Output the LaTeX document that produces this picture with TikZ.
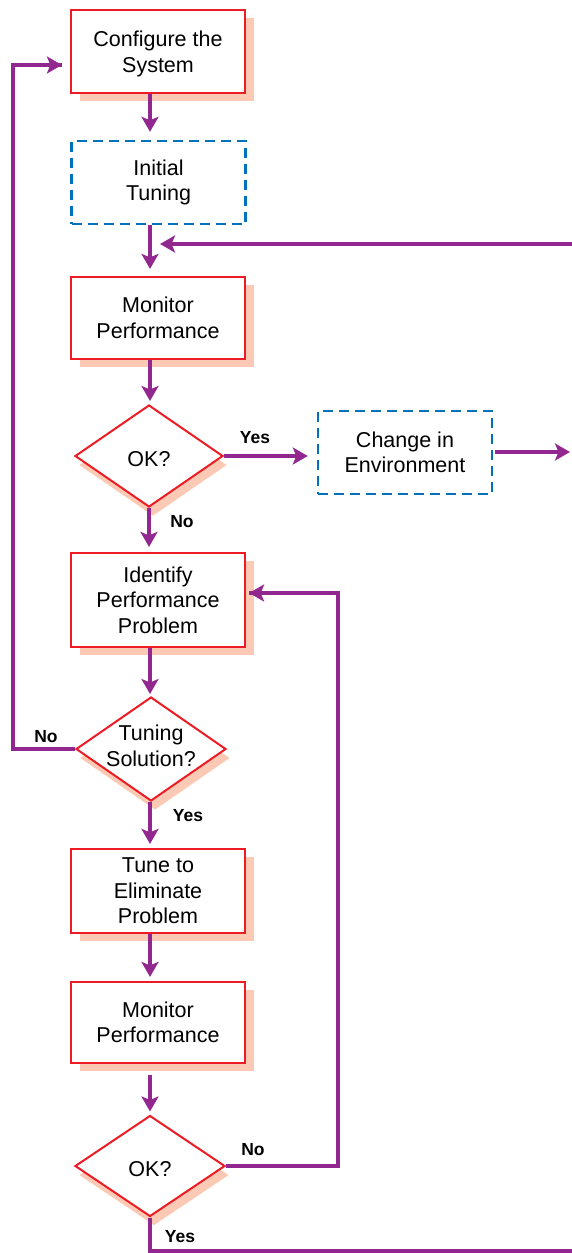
\documentclass[tikz,border=0pt]{standalone}
\usepackage{fontspec}
\setmainfont{Liberation Sans}
\usetikzlibrary{shapes.geometric,shadows,arrows.meta,calc}

\definecolor{boxred}{RGB}{237,28,36}
\definecolor{peach}{RGB}{252,202,180}
\definecolor{flowpurple}{RGB}{146,39,143}
\definecolor{envblue}{RGB}{0,114,188}

\tikzset{
  boxtext/.style={font=\fontsize{21.5}{25.5}\selectfont, align=center},
  procbox/.style={boxtext, draw=boxred, line width=2.2pt, fill=white,
    minimum width=174pt, inner sep=0pt,
    drop shadow={shadow xshift=9pt, shadow yshift=-8pt, fill=peach, opacity=1}},
  envbox/.style={boxtext, draw=envblue, line width=2.4pt, dash pattern=on 10pt off 6pt,
    minimum width=174pt, inner sep=0pt},
  decision/.style={diamond, draw=boxred, line width=2pt, fill=white, inner sep=0pt,
    drop shadow={shadow xshift=4pt, shadow yshift=-9pt, fill=peach, opacity=1}},
  link/.style={draw=flowpurple, line width=4.7pt},
  flow/.style={link, -{Stealth[length=15pt,width=17pt,inset=3.5pt]}},
  tag/.style={font=\bfseries\fontsize{17.5}{20}\selectfont}
}

\begin{document}
\begin{tikzpicture}[x=1pt,y=-1pt]
\useasboundingbox (0,0) rectangle (572,1253);

% process boxes
\node[procbox, minimum height=83pt] (cfg)   at (158,51.5)  {\rule{0pt}{20pt}Configure the\\System};
\node[envbox,  minimum height=83pt] (init)  at (158.5,182.5) {Initial\\Tuning};
\node[procbox, minimum height=82pt] (mon1)  at (158,318)   {Monitor\\Performance};
\node[envbox,  minimum height=83pt] (env)   at (405,452.5) {Change in\\Environment};
\node[procbox, minimum height=94pt] (ident) at (158,600)   {Identify\\Performance\\Problem};
\node[procbox, minimum height=84pt] (tune)  at (158,891)   {Tune to\\Eliminate\\Problem};
\node[procbox, minimum height=81pt] (mon2)  at (158,1022.5) {Monitor\\Performance};

% decisions
\node[decision, minimum width=148pt, minimum height=102pt] (ok1) at (149,456) {};
\node[decision, minimum width=150pt, minimum height=104pt] (tun) at (151,749) {};
\node[decision, minimum width=150pt, minimum height=101pt] (ok2) at (150,1166) {};
\node[boxtext] (ok1t) at (149,459) {OK?};
\node[boxtext] (tunt) at (151,746) {Tuning\\Solution?};
\node[boxtext] (ok2t) at (150,1169) {OK?};

% bend points and free ends
\coordinate (feed)   at (572,244);
\coordinate (merge)  at (150,244);
\coordinate (envout) at (570,452);
\coordinate (back)   at (13,65);
\coordinate (loopc)  at (338,593);
\coordinate (exit)   at (572,1251);

% main column
\draw[flow, shorten >=8pt] (cfg.south -| merge) -- (init.north -| merge);
\draw[flow, shorten >=7pt] (init.south -| merge) -- (mon1.north -| merge);
\draw[flow, shorten >=10pt] (feed) -- (merge);
\draw[flow, shorten >=3pt] (mon1.south -| merge) -- (ok1.north -| merge);
\draw[flow, shorten >=9pt] (ok1.east) -- (ok1.east -| env.west);
\draw[flow, shorten <=2pt] (env.east |- envout) -- (envout);
\draw[flow, shorten >=5pt] (ok1.south) -- (ident.north -| ok1.south);
\draw[flow, shorten >=2pt] (ident.south -| merge) -- (tun.north -| merge);
\draw[link] (tun.west) -- (tun.west -| back) -- (back) -- ($(cfg.west |- back)+(-8,0)$);
\draw[flow] ($(cfg.west |- back)+(-22,0)$) -- ($(cfg.west |- back)+(-8,0)$);
\draw[flow, shorten >=4pt] (tun.south -| merge) -- (tune.north -| merge);
\draw[flow, shorten >=4pt] (tune.south -| merge) -- (mon2.north -| merge);
\draw[flow, shorten <=11pt, shorten >=3pt] (mon2.south -| merge) -- (ok2.north -| merge);
\draw[link] (ok2.east) -- (ok2.east -| loopc) -- (loopc) -- ($(ident.east |- loopc)+(3,0)$);
\draw[flow] ($(ident.east |- loopc)+(17,0)$) -- ($(ident.east |- loopc)+(3,0)$);
\draw[link] (ok2.south) -- (ok2.south |- exit) -- (exit);

% branch labels
\node[tag] (y1) at (255,438)  {Yes};
\node[tag] (n1) at (182,522)  {No};
\node[tag] (n2) at (46,737)   {No};
\node[tag] (y2) at (188,816)  {Yes};
\node[tag] (n3) at (253,1150) {No};
\node[tag] (y3) at (180,1237) {Yes};
\end{tikzpicture}
\end{document}
